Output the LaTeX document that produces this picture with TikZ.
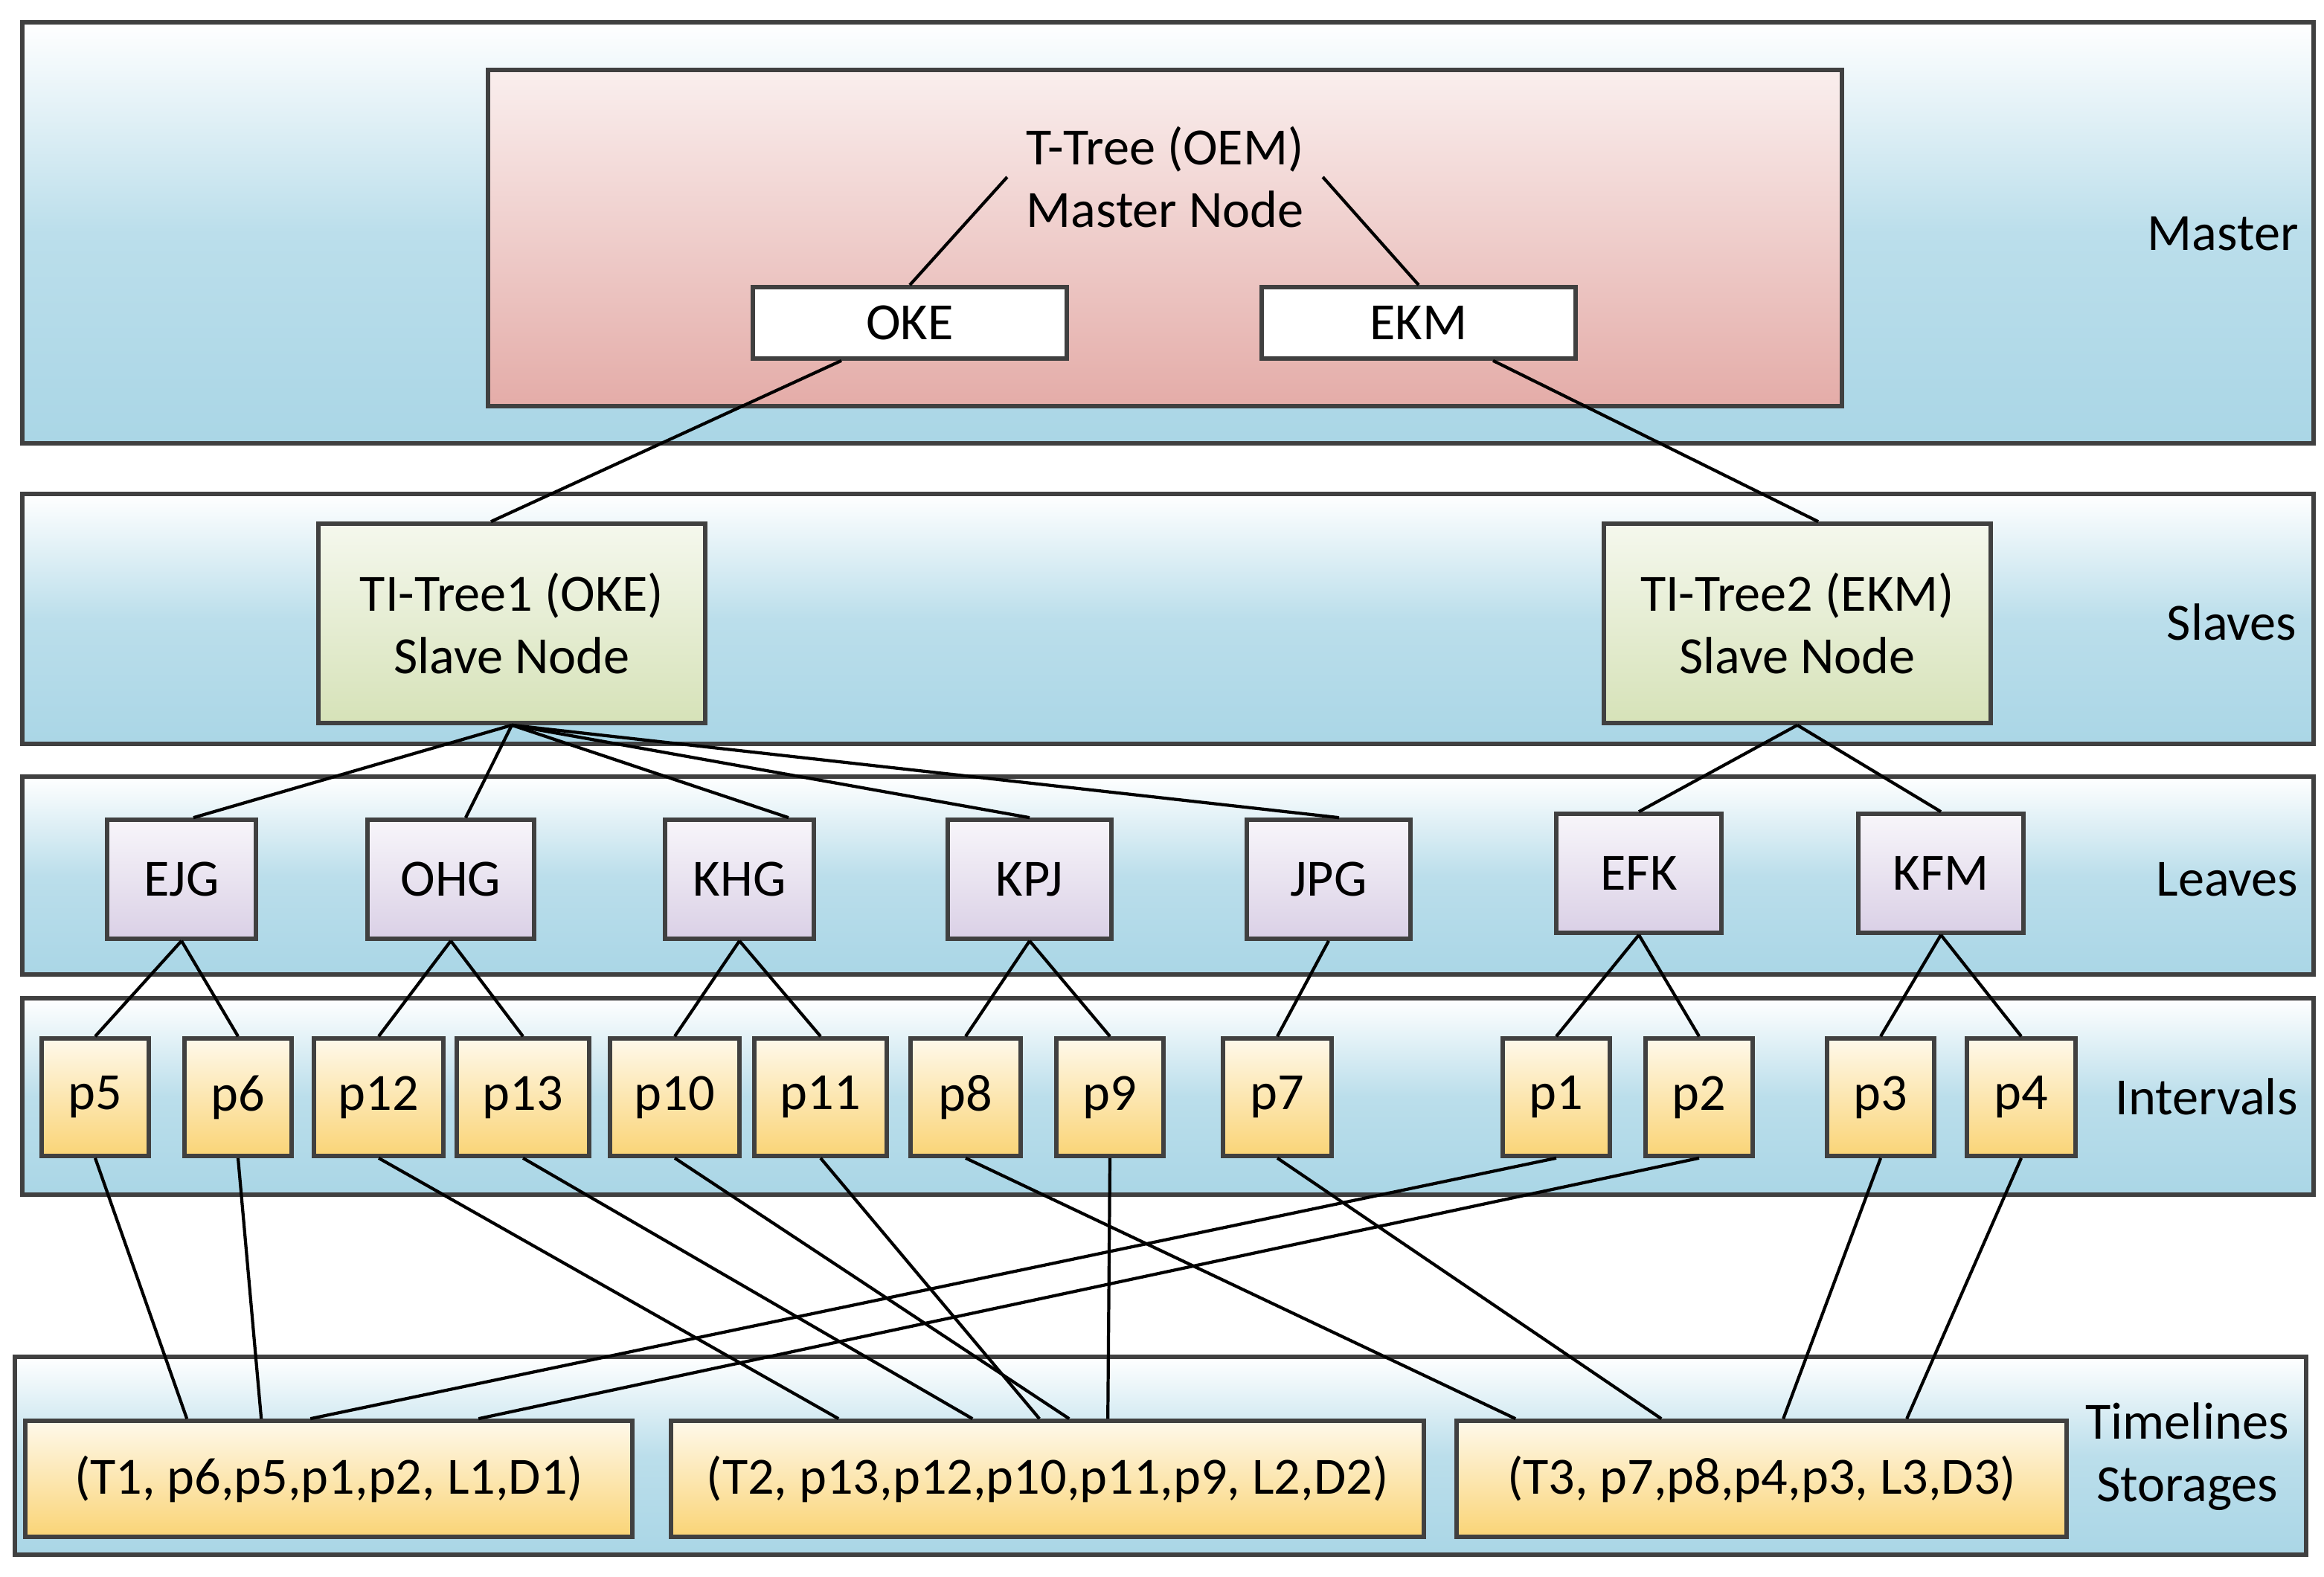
\documentclass[tikz,border=0pt]{standalone}
\usepackage{fontspec}
\setmainfont{Carlito}
\usetikzlibrary{positioning}
\definecolor{bandblue}{RGB}{170,214,230}
\definecolor{masterpink}{RGB}{228,172,168}
\definecolor{slavegreen}{RGB}{214,226,184}
\definecolor{leafpurple}{RGB}{218,208,230}
\definecolor{intyellow}{RGB}{250,212,118}
\tikzset{
  band/.style={draw=black!75, line width=0.8pt, top color=white, bottom color=bandblue, middle color=bandblue!80},
  box/.style={draw=black!75, line width=0.8pt, inner sep=0pt, align=center},
  slave/.style={box, top color=slavegreen!25, bottom color=slavegreen, minimum width=2.6cm, minimum height=1.34cm},
  leaf/.style={box, top color=leafpurple!20, bottom color=leafpurple, minimum height=0.8cm},
  ival/.style={box, top color=intyellow!15, bottom color=intyellow, minimum height=0.79cm},
  tline/.style={box, top color=intyellow!15, bottom color=intyellow, minimum height=0.78cm},
  layer/.style={align=center}
}
\begin{document}
\begin{tikzpicture}[line width=0.6pt, font=\fontsize{10}{12}\selectfont]
\useasboundingbox (0,0) rectangle (15.62,-10.6);

% layer bands
\draw[band] (0.15,-0.15) rectangle (15.55,-2.98);
\draw[band] (0.15,-3.32) rectangle (15.55,-5.00);
\draw[band] (0.15,-5.22) rectangle (15.55,-6.55);
\draw[band] (0.15,-6.71) rectangle (15.55,-8.03);
\draw[band] (0.10,-9.12) rectangle (15.50,-10.45);

% master
\draw[draw=black!75, line width=0.8pt, top color=masterpink!20, bottom color=masterpink] (3.28,-0.47) rectangle (12.38,-2.73);
\node[layer] (mt) at (7.83,-1.19) {T-Tree (OEM)\\Master Node};
\node[box, fill=white, minimum width=2.11cm, minimum height=0.48cm] (OKE) at (6.115,-2.17) {OKE};
\node[box, fill=white, minimum width=2.11cm, minimum height=0.48cm] (EKM) at (9.535,-2.17) {EKM};

% slaves
\node[slave] (TI1) at (3.44,-4.19) {TI-Tree1 (OKE)\\Slave Node};
\node[slave] (TI2) at (12.08,-4.19) {TI-Tree2 (EKM)\\Slave Node};

% leaves
\node[leaf, minimum width=1.0cm] (EJG) at (1.22,-5.91) {EJG};
\node[leaf, minimum width=1.12cm] (OHG) at (3.03,-5.91) {OHG};
\node[leaf, minimum width=1.0cm] (KHG) at (4.97,-5.91) {KHG};
\node[leaf, minimum width=1.1cm] (KPJ) at (6.92,-5.91) {KPJ};
\node[leaf, minimum width=1.1cm] (JPG) at (8.93,-5.91) {JPG};
\node[leaf, minimum width=1.11cm] (EFK) at (11.015,-5.87) {EFK};
\node[leaf, minimum width=1.11cm] (KFM) at (13.045,-5.87) {KFM};

% intervals
\node[ival, minimum width=0.72cm] (p5) at (0.64,-7.375) {p5};
\node[ival, minimum width=0.72cm] (p6) at (1.60,-7.375) {p6};
\node[ival, minimum width=0.87cm] (p12) at (2.545,-7.375) {p12};
\node[ival, minimum width=0.89cm] (p13) at (3.515,-7.375) {p13};
\node[ival, minimum width=0.87cm] (p10) at (4.535,-7.375) {p10};
\node[ival, minimum width=0.89cm] (p11) at (5.515,-7.375) {p11};
\node[ival, minimum width=0.74cm] (p8) at (6.49,-7.375) {p8};
\node[ival, minimum width=0.72cm] (p9) at (7.46,-7.375) {p9};
\node[ival, minimum width=0.73cm] (p7) at (8.585,-7.375) {p7};
\node[ival, minimum width=0.72cm] (p1) at (10.46,-7.375) {p1};
\node[ival, minimum width=0.72cm] (p2) at (11.42,-7.375) {p2};
\node[ival, minimum width=0.72cm] (p3) at (12.64,-7.375) {p3};
\node[ival, minimum width=0.73cm] (p4) at (13.585,-7.375) {p4};

% timelines
\node[tline, minimum width=4.08cm] (T1) at (2.21,-9.94) {(T1, p6,p5,p1,p2, L1,D1)};
\node[tline, minimum width=5.06cm] (T2) at (7.04,-9.94) {(T2, p13,p12,p10,p11,p9, L2,D2)};
\node[tline, minimum width=4.10cm] (T3) at (11.84,-9.94) {(T3, p7,p8,p4,p3, L3,D3)};

% layer names
\node[layer] (lm) at (14.94,-1.57) {Master};
\node[layer] (ls) at (15.00,-4.18) {Slaves};
\node[layer] (ll) at (14.97,-5.91) {Leaves};
\node[layer] (li) at (14.83,-7.37) {Intervals};
\node[layer] (lt) at (14.70,-9.79) {Timelines\\Storages};

% tree links
\draw (mt.west) -- (OKE.north);
\draw (mt.east) -- (EKM.north);
\draw ([xshift=-0.46cm]OKE.south) -- ([xshift=-0.14cm]TI1.north);
\draw ([xshift=0.5cm]EKM.south) -- ([xshift=0.14cm]TI2.north);
\foreach \l/\dx in {EJG/0.08, OHG/0.1, KHG/0.33, KPJ/0, JPG/0.07}
  \draw (TI1.south) -- ([xshift=\dx cm]KHG.north -| \l.north);
\foreach \l in {EFK, KFM}
  \draw (TI2.south) -- (\l.north);
\foreach \l/\a/\b in {EJG/p5/p6, OHG/p12/p13, KHG/p10/p11, KPJ/p8/p9, EFK/p1/p2, KFM/p3/p4}{
  \draw (\l.south) -- (\a.north);
  \draw (\l.south) -- (\b.north);
}
\draw (JPG.south) -- (p7.north);

% storage links
\foreach \p/\t/\dx in {p5/T1/1.10, p6/T1/1.60, p1/T1/1.93, p2/T1/3.06,
  p12/T2/1.14, p13/T2/2.04, p10/T2/2.69, p11/T2/2.49, p9/T2/2.95,
  p8/T3/0.41, p7/T3/1.39, p3/T3/2.21, p4/T3/3.04}
  \draw (\p.south) -- ([xshift=\dx cm]\t.north west);
\end{tikzpicture}
\end{document}
